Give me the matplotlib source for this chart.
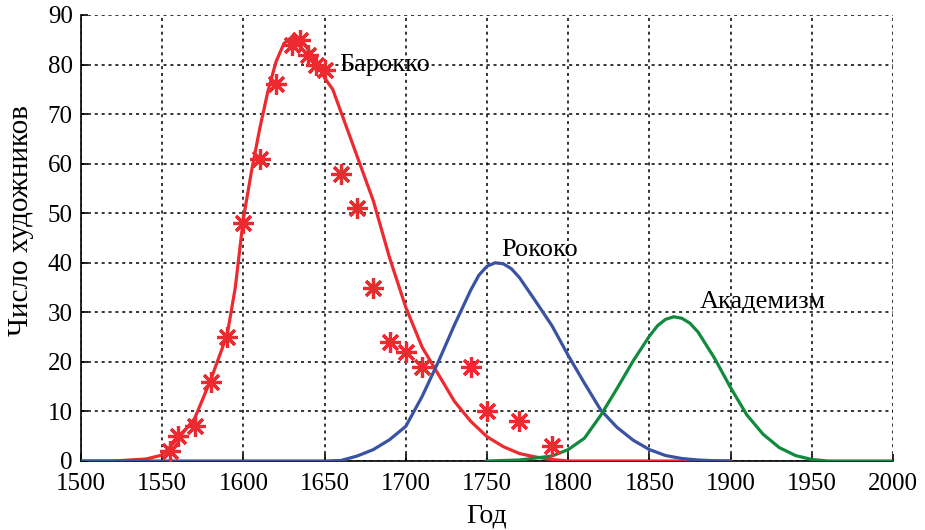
import matplotlib.pyplot as plt

plt.rcParams['font.family'] = ['Liberation Serif', 'DejaVu Serif']

# smoothed curves (years, number of artists)
baroque_years = [1500, 1520, 1540, 1550, 1560, 1570, 1580, 1590, 1595, 1600,
                 1605, 1610, 1615, 1620, 1625, 1630, 1635, 1640, 1645, 1650,
                 1655, 1660, 1670, 1680, 1690, 1700, 1710, 1720, 1730, 1740,
                 1750, 1760, 1770, 1780, 1790, 1800, 1900]
baroque_curve = [0, 0, 0.4, 1.2, 4.6, 8.6, 16.5, 25.5, 35, 49,
                 58.5, 67, 74.5, 80.5, 84.3, 85.6, 85, 83, 80.5, 77.3,
                 75, 70.5, 61.5, 52.5, 41, 31, 23, 17.5, 12, 8,
                 4.9, 2.9, 1.5, 0.8, 0.3, 0, 0]

rococo_years = [1500, 1650, 1660, 1670, 1680, 1690, 1700, 1710, 1720, 1730,
                1740, 1745, 1750, 1755, 1760, 1765, 1770, 1780, 1790, 1800,
                1810, 1820, 1830, 1840, 1850, 1860, 1870, 1880, 1890, 1900]
rococo_curve = [0, 0, 0.1, 1, 2.3, 4.3, 7, 13, 20, 27.5,
                34.5, 37.5, 39.3, 40, 39.8, 38.8, 37, 32.2, 27.3, 21.3,
                15.7, 10.3, 6.8, 4.2, 2.3, 1.1, 0.5, 0.2, 0.05, 0]

academ_years = [1750, 1770, 1780, 1790, 1800, 1810, 1820, 1830, 1840, 1850,
                1855, 1860, 1865, 1870, 1875, 1880, 1890, 1900, 1910, 1920,
                1930, 1940, 1950, 1960, 2000]
academ_curve = [0, 0.2, 0.6, 1, 2.3, 4.6, 9.2, 14.6, 20.2, 25.2,
                27.3, 28.6, 29.1, 28.8, 27.8, 26, 20.8, 14.8, 9.3, 5.4,
                2.7, 1.1, 0.3, 0, 0]

# observed baroque counts
obs_years = [1555, 1560, 1570, 1580, 1590, 1600, 1610, 1620, 1630, 1635,
             1640, 1645, 1650, 1660, 1670, 1680, 1690, 1700, 1710, 1740,
             1750, 1770, 1790]
obs_counts = [2, 5, 7, 16, 25, 48, 61, 76, 84, 85,
              82, 80, 79, 58, 51, 35, 24, 22, 19, 19,
              10, 8, 3]

red = '#ec2a2f'
blue = '#3a52a3'
green = '#118a3e'

fig = plt.figure(figsize=(9.25, 5.3), dpi=100)
ax = fig.add_axes([0.0876, 0.1302, 0.8778, 0.8415])

ax.plot(baroque_years, baroque_curve, color=red, lw=2.3, zorder=3)
ax.plot(rococo_years, rococo_curve, color=blue, lw=2.3, zorder=3)
ax.plot(academ_years, academ_curve, color=green, lw=2.3, zorder=3)
ax.plot(obs_years, obs_counts, linestyle='none', marker=(8, 2, 0),
        markersize=15, markeredgewidth=2.3, color=red, zorder=4)

ax.text(1659, 80, 'Барокко', fontsize=19, va='center', ha='left')
ax.text(1759, 42.5, 'Рококо', fontsize=19, va='center', ha='left')
ax.text(1881, 32, 'Академизм', fontsize=19, va='center', ha='left')

ax.set_xlim(1500, 2000)
ax.set_ylim(0, 90)
ax.set_xticks(range(1500, 2001, 50))
ax.set_yticks(range(0, 91, 10))
ax.grid(True, color='black', linestyle=(0, (2, 2.5)), linewidth=1.1)
ax.set_axisbelow(True)
for side in ['top', 'right']:
    ax.spines[side].set_visible(False)
ax.spines['left'].set_linewidth(1.2)
ax.spines['bottom'].set_linewidth(1.2)
ax.tick_params(direction='in', length=5, width=1.2, labelsize=18)
ax.tick_params(axis='x', pad=9)
ax.tick_params(axis='y', pad=6)

ax.set_xlabel('Год', fontsize=20, labelpad=6)
ax.set_ylabel('Число художников', fontsize=21, labelpad=4)
ax.yaxis.set_label_coords(-0.058, 0.54)

fig.savefig('out.png', dpi=100)
